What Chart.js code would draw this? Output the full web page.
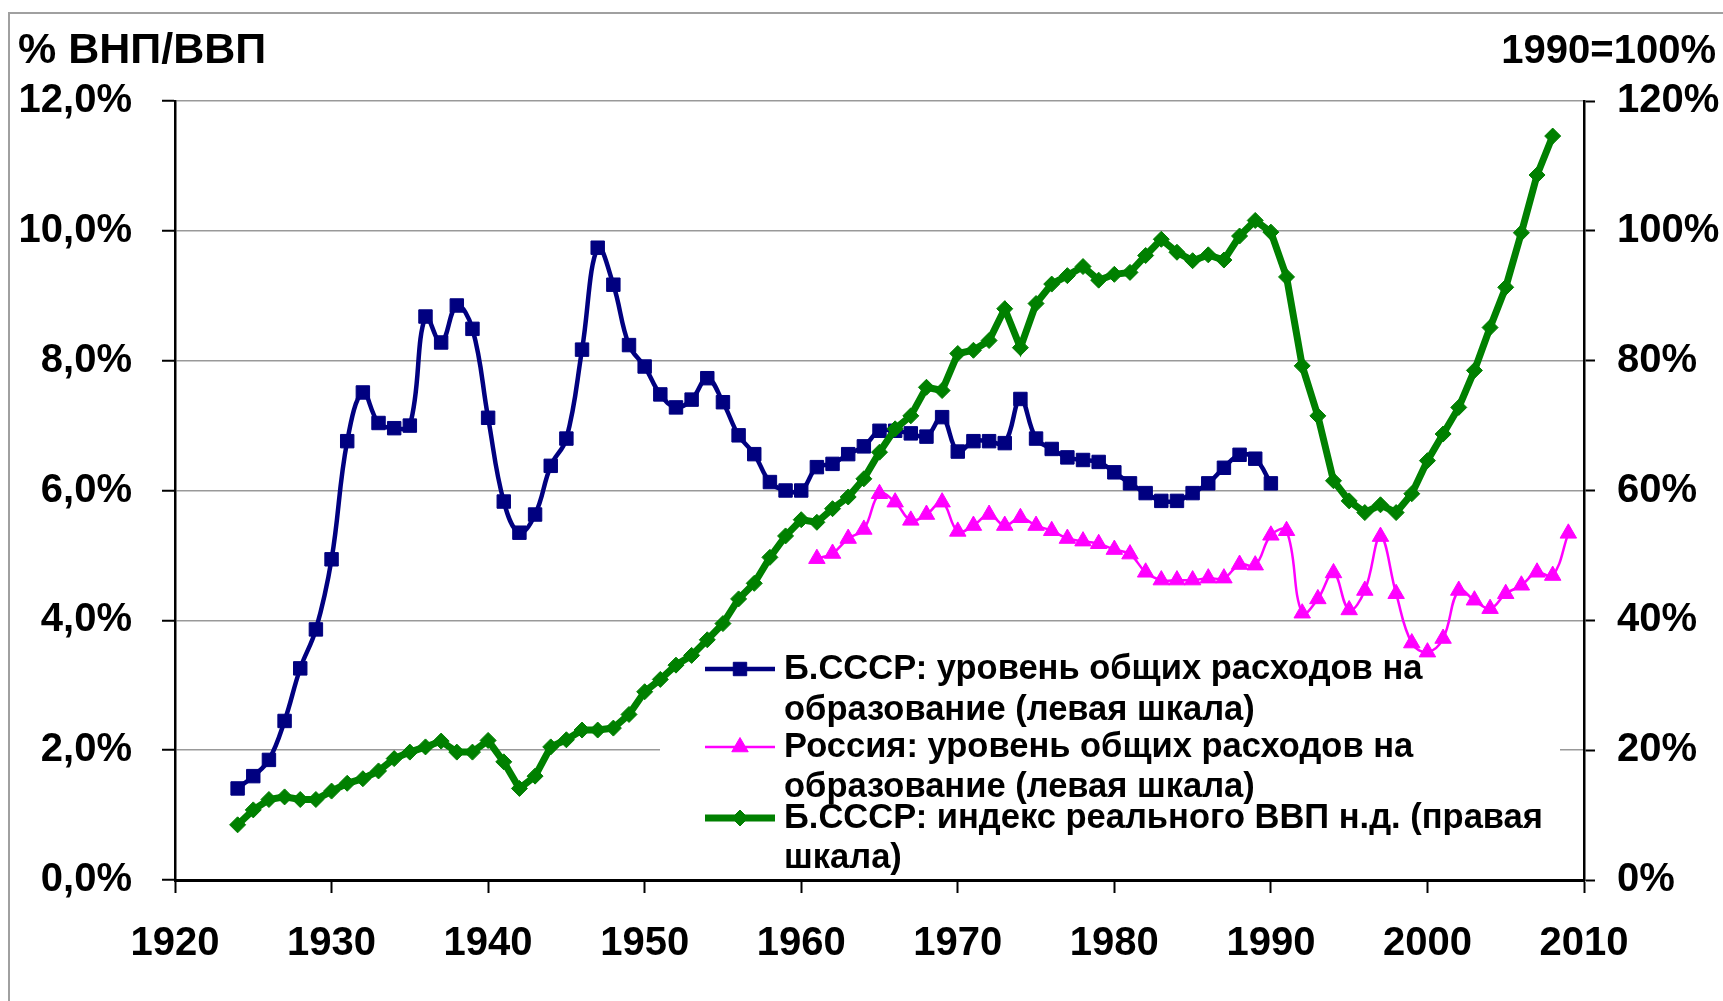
<!DOCTYPE html>
<html>
<head>
<meta charset="utf-8">
<script src="https://cdn.jsdelivr.net/npm/chart.js@4.4.0/dist/chart.umd.min.js"></script>
<style>
  body { margin: 0; background: #fff; }
  #wrap { width: 1723px; height: 1001px; position: relative; }
</style>
</head>
<body>
<div id="wrap"><canvas id="grafico"></canvas></div>
<script>
// годы (одна строка = одно десятилетие)
const years = [
  1924, 1925, 1926, 1927, 1928, 1929,
  1930, 1931, 1932, 1933, 1934, 1935, 1936, 1937, 1938, 1939,
  1940, 1941, 1942, 1943, 1944, 1945, 1946, 1947, 1948, 1949,
  1950, 1951, 1952, 1953, 1954, 1955, 1956, 1957, 1958, 1959,
  1960, 1961, 1962, 1963, 1964, 1965, 1966, 1967, 1968, 1969,
  1970, 1971, 1972, 1973, 1974, 1975, 1976, 1977, 1978, 1979,
  1980, 1981, 1982, 1983, 1984, 1985, 1986, 1987, 1988, 1989,
  1990, 1991, 1992, 1993, 1994, 1995, 1996, 1997, 1998, 1999,
  2000, 2001, 2002, 2003, 2004, 2005, 2006, 2007, 2008, 2009
];

// Б.СССР: расходы на образование, % ВНП (левая шкала)
const eduUssr = [
  1.41, 1.60, 1.85, 2.45, 3.26, 3.86,
  4.94, 6.76, 7.51, 7.04, 6.96, 7.00, 8.68, 8.28, 8.85, 8.49,
  7.12, 5.83, 5.35, 5.63, 6.38, 6.80, 8.17, 9.74, 9.17, 8.24,
  7.91, 7.48, 7.28, 7.40, 7.73, 7.36, 6.85, 6.56, 6.13, 6.00,
  6.00, 6.36, 6.41, 6.56, 6.68, 6.92, 6.92, 6.88, 6.83, 7.13,
  6.60, 6.76, 6.76, 6.73, 7.41, 6.80, 6.64, 6.51, 6.47, 6.44,
  6.28, 6.11, 5.96, 5.84, 5.84, 5.96, 6.11, 6.35, 6.55, 6.49,
  6.11, null, null, null, null, null, null, null, null, null,
  null, null, null, null, null, null, null, null, null, null
];

// Россия: расходы на образование, % ВВП (левая шкала)
const eduRussia = [
  null, null, null, null, null, null,
  null, null, null, null, null, null, null, null, null, null,
  null, null, null, null, null, null, null, null, null, null,
  null, null, null, null, null, null, null, null, null, null,
  null, 4.95, 5.03, 5.26, 5.40, 5.95, 5.82, 5.54, 5.63, 5.82,
  5.37, 5.46, 5.63, 5.46, 5.58, 5.46, 5.38, 5.26, 5.22, 5.18,
  5.09, 5.02, 4.74, 4.62, 4.62, 4.62, 4.65, 4.65, 4.86, 4.85,
  5.31, 5.38, 4.11, 4.33, 4.73, 4.16, 4.46, 5.29, 4.41, 3.65,
  3.51, 3.72, 4.46, 4.31, 4.18, 4.41, 4.54, 4.74, 4.69, 5.34
];

// Б.СССР: индекс реального ВВП, 1990 = 100% (правая шкала)
const gdpIndex = [
  8.5, 10.8, 12.4, 12.8, 12.4, 12.4,
  13.7, 14.9, 15.6, 16.8, 18.7, 19.7, 20.5, 21.4, 19.7, 19.7,
  21.5, 18.2, 14.1, 16.0, 20.5, 21.6, 23.1, 23.1, 23.4, 25.5,
  29.0, 30.9, 33.1, 34.6, 37.0, 39.5, 43.3, 45.7, 49.7, 53.0,
  55.5, 55.1, 57.2, 59.0, 61.8, 65.9, 69.5, 71.5, 75.9, 75.4,
  81.1, 81.6, 83.1, 88.0, 82.0, 88.8, 91.8, 93.1, 94.5, 92.4,
  93.3, 93.6, 96.2, 98.7, 96.7, 95.4, 96.3, 95.5, 99.2, 101.6,
  99.8, 92.9, 79.2, 71.5, 61.5, 58.4, 56.6, 57.8, 56.6, 59.5,
  64.6, 68.7, 72.8, 78.5, 85.1, 91.3, 99.7, 108.6, 114.6, null
];

const xTicks = [1920, 1930, 1940, 1950, 1960, 1970, 1980, 1990, 2000, 2010];
const leftTicks = [0, 2, 4, 6, 8, 10, 12];
const rightTicks = [0, 20, 40, 60, 80, 100, 120];

const legendLines = [
  ['Б.СССР: уровень общих расходов на', 'образование (левая шкала)'],
  ['Россия: уровень общих расходов на', 'образование (левая шкала)'],
  ['Б.СССР: индекс реального ВВП н.д. (правая', 'шкала)']
];
const leftTitle = '% ВНП/ВВП';
const rightTitle = '1990=100%';

const FONT = '"Liberation Sans", Arial, sans-serif';
Chart.defaults.font.family = FONT;

function pts(vals) {
  return years.map((y, i) => ({ x: y, y: vals[i] }));
}

function marker(ctx, style, x, y, r, color) {
  ctx.beginPath();
  if (style === 'rect') {
    let s = r * Math.SQRT1_2;
    ctx.rect(x - s, y - s, 2 * s, 2 * s);
  } else if (style === 'rectRot') {
    ctx.moveTo(x, y - r); ctx.lineTo(x + r, y); ctx.lineTo(x, y + r); ctx.lineTo(x - r, y);
    ctx.closePath();
  } else {
    let h = r * Math.sqrt(3) / 2;
    ctx.moveTo(x, y - r); ctx.lineTo(x + h, y + r / 2); ctx.lineTo(x - h, y + r / 2);
    ctx.closePath();
  }
  ctx.fillStyle = color;
  ctx.strokeStyle = color;
  ctx.lineWidth = 1;
  ctx.fill();
  ctx.stroke();
}

const decor = {
  id: 'decor',
  beforeDraw(chart) {
    let ctx = chart.ctx;
    ctx.save();
    ctx.fillStyle = '#fff';
    ctx.fillRect(0, 0, chart.width, chart.height);
    ctx.strokeStyle = '#a0a0a0';
    ctx.lineWidth = 2;
    ctx.strokeRect(9, 13, chart.width + 40, chart.height + 40);
    ctx.restore();
  },
  beforeDatasetsDraw(chart) {
    // фон легенды закрывает линии сетки
    let ctx = chart.ctx;
    ctx.save();
    ctx.fillStyle = '#fff';
    ctx.fillRect(660, 632, 900, 245);
    ctx.restore();
  },
  afterDraw(chart) {
    let ctx = chart.ctx;
    ctx.save();
    ctx.fillStyle = '#000';
    ctx.textBaseline = 'alphabetic';
    ctx.textAlign = 'left';
    ctx.font = 'bold 43px ' + FONT;
    ctx.fillText(leftTitle, 18, 63);
    ctx.textAlign = 'right';
    ctx.font = 'bold 40px ' + FONT;
    ctx.fillText(rightTitle, 1716, 63);

    // легенда
    let rows = [[669, 710], [747, 787], [818, 858]];
    chart.data.datasets.forEach((ds, i) => {
      let y = rows[i][0];
      ctx.beginPath();
      ctx.strokeStyle = ds.borderColor;
      ctx.lineWidth = ds.borderWidth;
      ctx.moveTo(705, y);
      ctx.lineTo(775, y);
      ctx.stroke();
      marker(ctx, ds.pointStyle, 740, y, ds.pointRadius, ds.borderColor);
      ctx.fillStyle = '#000';
      ctx.font = 'bold 34.5px ' + FONT;
      ctx.textAlign = 'left';
      ctx.textBaseline = 'middle';
      legendLines[i].forEach((t, k) => ctx.fillText(t, 784, rows[i][k]));
    });
    ctx.restore();
  }
};

let ctx = document.getElementById('grafico');

new Chart(ctx, {
  type: 'line',
  data: {
    datasets: [
      {
        label: legendLines[0].join(' '),
        data: pts(eduUssr),
        yAxisID: 'y',
        borderColor: '#000080',
        backgroundColor: '#000080',
        borderWidth: 4.5,
        pointStyle: 'rect',
        pointRadius: 9.5,
        pointBorderWidth: 1,
        tension: 0.4,
        order: 1
      },
      {
        label: legendLines[1].join(' '),
        data: pts(eduRussia),
        yAxisID: 'y',
        borderColor: '#ff00ff',
        backgroundColor: '#ff00ff',
        borderWidth: 2.5,
        pointStyle: 'triangle',
        pointRadius: 9.5,
        pointBorderWidth: 1,
        tension: 0.4,
        order: 2
      },
      {
        label: legendLines[2].join(' '),
        data: pts(gdpIndex),
        yAxisID: 'y1',
        borderColor: '#008000',
        backgroundColor: '#008000',
        borderWidth: 7,
        pointStyle: 'rectRot',
        pointRadius: 8,
        pointBorderWidth: 1,
        tension: 0,
        order: 0
      }
    ]
  },
  options: {
    responsive: true,
    maintainAspectRatio: false,
    animation: false,
    layout: { padding: { top: 101, left: 0, right: 0, bottom: 0 } },
    plugins: {
      legend: { display: false },
      tooltip: { enabled: false },
      title: { display: false }
    },
    scales: {
      x: {
        type: 'linear',
        min: 1920,
        max: 2010,
        afterBuildTicks: s => { s.ticks = xTicks.map(v => ({ value: v })); },
        afterFit: s => { s.height = 121; },
        ticks: {
          callback: v => String(v),
          font: { size: 40, weight: 'bold' },
          color: '#000',
          padding: 27,
          maxRotation: 0,
          autoSkip: false
        },
        grid: { drawOnChartArea: false, tickLength: 13, tickColor: '#000', tickWidth: 2 },
        border: { color: '#000', width: 3 }
      },
      y: {
        position: 'left',
        min: 0,
        max: 12,
        afterBuildTicks: s => { s.ticks = leftTicks.map(v => ({ value: v })); },
        afterFit: s => { s.width = 175; },
        ticks: {
          callback: v => v.toFixed(1).replace('.', ',') + '%',
          font: { size: 40, weight: 'bold' },
          color: '#000',
          padding: 30
        },
        grid: { color: '#999', lineWidth: 1.5, tickLength: 13, tickColor: '#000', tickWidth: 2 },
        border: { color: '#000', width: 2.5 }
      },
      y1: {
        position: 'right',
        min: 0,
        max: 120,
        afterBuildTicks: s => { s.ticks = rightTicks.map(v => ({ value: v })); },
        afterFit: s => { s.width = 139; },
        ticks: {
          callback: v => v + '%',
          font: { size: 40, weight: 'bold' },
          color: '#000',
          padding: 22
        },
        grid: { drawOnChartArea: false, tickLength: 11, tickColor: '#000', tickWidth: 2 },
        border: { color: '#000', width: 2.5 }
      }
    }
  },
  plugins: [decor]
});
</script>
</body>
</html>
